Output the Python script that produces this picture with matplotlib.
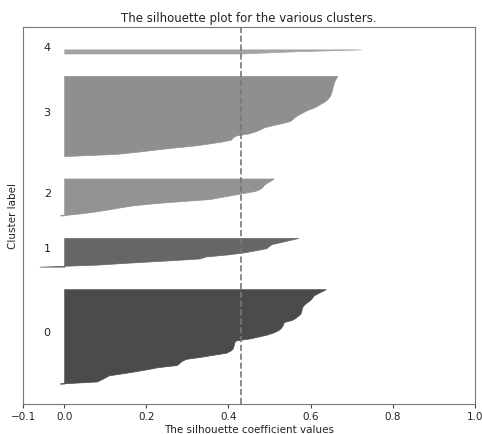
import numpy as np
import matplotlib
matplotlib.use("Agg")
import matplotlib.pyplot as plt

# silhouette values per cluster, sorted ascending
sil_0 = [-0.01, 0.08, 0.09, 0.10, 0.109, 0.142, 0.174, 0.203, 0.229, 0.274,
         0.280, 0.286, 0.296, 0.332, 0.362, 0.394, 0.404, 0.410, 0.412, 0.413,
         0.414, 0.418, 0.452, 0.475, 0.496, 0.510, 0.521, 0.527, 0.531, 0.533,
         0.535, 0.554, 0.563, 0.569, 0.575, 0.577, 0.578, 0.579, 0.582, 0.587,
         0.594, 0.600, 0.604, 0.608, 0.617, 0.627, 0.637]
sil_1 = [-0.06, 0.08, 0.16, 0.248, 0.33, 0.345, 0.40, 0.438, 0.466, 0.492,
         0.498, 0.505, 0.527, 0.549, 0.57]
sil_2 = [-0.01, 0.04, 0.078, 0.11, 0.138, 0.17, 0.222, 0.287, 0.355, 0.382,
         0.41, 0.438, 0.466, 0.477, 0.483, 0.487, 0.494, 0.503, 0.51]
sil_3 = [0.004, 0.126, 0.174, 0.217, 0.26, 0.312, 0.349, 0.382, 0.406, 0.41,
         0.418, 0.449, 0.465, 0.477, 0.487, 0.507, 0.529, 0.549, 0.556, 0.561,
         0.569, 0.578, 0.587, 0.599, 0.612, 0.62, 0.629, 0.637, 0.642, 0.646,
         0.649, 0.65, 0.652, 0.653, 0.654, 0.656, 0.657, 0.659, 0.662, 0.665]
sil_4 = [0.43, 0.55, 0.722]
clusters = [sil_0, sil_1, sil_2, sil_3, sil_4]
cluster_colors = ["#4b4b4b", "#666666", "#939393", "#8f8f8f", "#a3a3a3"]
silhouette_avg = 0.43

fig = plt.figure(figsize=(4.82, 4.35), dpi=100)
ax = fig.add_axes([0.048, 0.069, 0.937, 0.867])

n_total = sum(len(c) for c in clusters)
y_lower = 10
for i, vals in enumerate(clusters):
    size = len(vals)
    y_upper = y_lower + size
    ax.fill_betweenx(np.arange(y_lower, y_upper), 0, vals,
                     facecolor=cluster_colors[i], edgecolor=cluster_colors[i], linewidth=0.5)
    # label the cluster near the middle (baseline-aligned, like the sklearn example)
    ax.text(-0.05, y_lower + 0.5 * size, str(i), fontsize=8, color="#222222")
    y_lower = y_upper + 10

ax.axvline(x=silhouette_avg, color="#777777", linestyle="--", linewidth=1.2)

ax.set_title("The silhouette plot for the various clusters.", fontsize=8.5, color="#222222", pad=4)
ax.set_xlabel("The silhouette coefficient values", fontsize=7.5, color="#222222", labelpad=2)
ax.set_ylabel("Cluster label", fontsize=7.5, color="#222222", labelpad=4)
ax.set_yticks([])
ax.set_xticks([-0.1, 0, 0.2, 0.4, 0.6, 0.8, 1])
ax.set_xlim(-0.1, 1.0)
ax.set_ylim(0, n_total + (len(clusters) + 1) * 10)
ax.tick_params(axis="x", labelsize=7.5, colors="#444444", labelcolor="#222222", length=3, pad=2)
for sp in ax.spines.values():
    sp.set_color("#777777")

fig.savefig("out.png", dpi=100)
